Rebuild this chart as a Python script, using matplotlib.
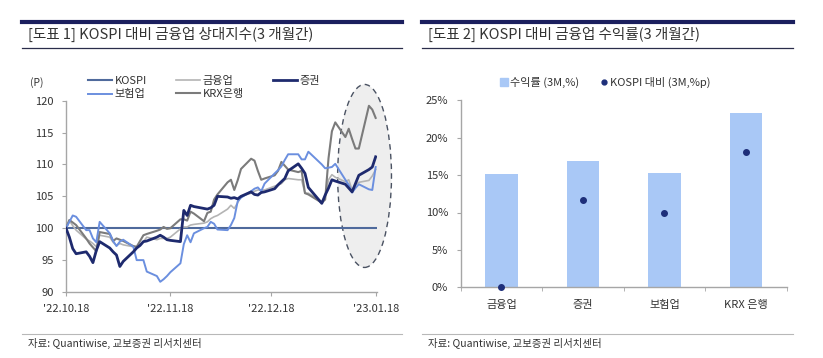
import matplotlib
matplotlib.use("Agg")
import matplotlib.pyplot as plt
import matplotlib.dates as mdates
from matplotlib.patches import Ellipse
from matplotlib.lines import Line2D
import numpy as np
import pandas as pd

plt.rcParams['font.family'] = ['Noto Sans CJK KR', 'DejaVu Sans']

# ---------------- data: chart 1 ----------------
dates = [
    "2022-10-18", "2022-10-19", "2022-10-20", "2022-10-21", "2022-10-24", "2022-10-25", "2022-10-26",
    "2022-10-27", "2022-10-28", "2022-10-31", "2022-11-01", "2022-11-02", "2022-11-03", "2022-11-04",
    "2022-11-07", "2022-11-08", "2022-11-09", "2022-11-10", "2022-11-11", "2022-11-14", "2022-11-15",
    "2022-11-16", "2022-11-17", "2022-11-18", "2022-11-21", "2022-11-22", "2022-11-23", "2022-11-24",
    "2022-11-25", "2022-11-28", "2022-11-29", "2022-11-30", "2022-12-01", "2022-12-02", "2022-12-05",
    "2022-12-06", "2022-12-07", "2022-12-08", "2022-12-09", "2022-12-12", "2022-12-13", "2022-12-14",
    "2022-12-15", "2022-12-16", "2022-12-19", "2022-12-20", "2022-12-21", "2022-12-22", "2022-12-23",
    "2022-12-26", "2022-12-27", "2022-12-28", "2022-12-29", "2023-01-02", "2023-01-03", "2023-01-04",
    "2023-01-05", "2023-01-06", "2023-01-09", "2023-01-10", "2023-01-11", "2023-01-12", "2023-01-13",
    "2023-01-16", "2023-01-17", "2023-01-18",
]
kospi = [100.0] * len(dates)
securities = [  # 증권
    100.0, 98.6, 96.8, 96.0, 96.3, 95.6, 94.6, 96.5, 97.9, 96.9, 96.3, 95.8, 94.0, 94.8,
    96.3, 96.9, 97.3, 97.9, 98.0, 98.6, 98.9, 98.6, 98.2, 98.1, 97.9, 102.8, 102.0, 103.6,
    103.4, 103.1, 103.0, 103.2, 103.6, 105.0, 104.9, 104.7, 104.8, 104.6, 105.0, 105.7, 105.3,
    105.2, 105.6, 105.7, 106.2, 106.8, 107.3, 107.8, 109.0, 110.1, 109.4, 108.6, 106.4, 103.9,
    105.2, 106.3, 107.6, 107.4, 106.9, 106.3, 105.7, 107.0, 108.3, 109.2, 109.6, 111.2,
]
insurance = [  # 보험업
    100.0, 101.0, 102.0, 101.8, 99.7, 99.7, 98.4, 97.8, 101.0, 99.2, 98.0, 97.2, 97.9, 98.2,
    97.1, 95.0, 95.0, 95.0, 93.2, 92.5, 91.6, 92.0, 92.5, 93.1, 94.5, 97.5, 98.9, 97.8,
    99.2, 100.0, 100.2, 101.0, 100.7, 99.8, 99.7, 100.5, 101.6, 104.2, 104.8, 105.8, 106.2,
    106.4, 105.8, 107.0, 108.6, 109.1, 109.7, 110.7, 111.6, 111.6, 110.8, 110.8, 112.0, 110.0,
    109.4, 109.5, 109.6, 110.1, 107.6, 106.8, 105.6, 106.3, 106.9, 106.1, 106.0, 109.6,
]
krx_bank = [  # KRX은행
    100.0, 101.3, 100.9, 100.5, 98.4, 97.6, 97.0, 96.4, 99.4, 99.1, 98.0, 98.4, 98.2, 98.0,
    97.2, 97.1, 98.0, 98.9, 99.1, 99.6, 99.8, 100.2, 99.9, 100.0, 101.4, 101.4, 101.2, 102.6,
    102.3, 101.1, 102.4, 102.6, 104.5, 105.3, 107.2, 107.6, 106.0, 107.5, 109.3, 110.9, 110.6,
    109.0, 107.6, 107.8, 108.3, 109.0, 110.4, 109.8, 109.2, 108.8, 109.0, 105.5, 105.3, 104.0,
    104.5, 111.0, 115.2, 116.6, 114.3, 115.6, 114.0, 112.5, 112.5, 119.2, 118.6, 117.3,
]
finance = [  # 금융업
    100.0, 101.2, 100.4, 99.7, 98.3, 98.0, 97.6, 97.1, 98.9, 98.6, 97.8, 97.3, 97.6, 97.4,
    97.1, 97.1, 97.5, 97.9, 98.6, 98.2, 98.4, 98.4, 98.4, 98.6, 99.9, 100.2, 100.2, 100.5,
    100.6, 100.8, 101.0, 101.5, 101.8, 102.0, 103.0, 103.6, 103.1, 104.0, 105.0, 105.5, 105.8,
    106.0, 106.0, 106.0, 106.6, 106.8, 107.0, 107.6, 107.8, 107.6, 107.6, 105.5, 105.5, 104.2,
    105.0, 107.6, 108.4, 108.0, 107.3, 107.6, 106.0, 106.8, 107.2, 107.5, 108.2, 109.2,
]
x_tick_dates = ["2022-10-18", "2022-11-18", "2022-12-18", "2023-01-18"]
x_tick_labels = ["'22.10.18", "'22.11.18", "'22.12.18", "'23.01.18"]
y_ticks_1 = [90, 95, 100, 105, 110, 115, 120]

# ---------------- data: chart 2 ----------------
categories = ["금융업", "증권", "보험업", "KRX 은행"]
returns_3m = [15.2, 16.9, 15.3, 23.3]
vs_kospi = [0.0, 11.7, 10.0, 18.1]
y_ticks_2 = [0, 5, 10, 15, 20, 25]

# ---------------- figure ----------------
W, H = 823, 358
fig = plt.figure(figsize=(W / 100, H / 100), dpi=100)
TXT = '#333333'


def fx(px):
    return px / W


def fy(py):
    return 1 - py / H


def hline(x0, x1, y, color, lw):
    fig.add_artist(Line2D([fx(x0), fx(x1)], [fy(y), fy(y)], color=color, lw=lw,
                          transform=fig.transFigure))


# headers / footers
for x0, x1, title in [(22, 402, "[도표 1] KOSPI 대비 금융업 상대지수(3 개월간)"),
                      (422, 793, "[도표 2] KOSPI 대비 금융업 수익률(3 개월간)")]:
    hline(x0, x1, 21.5, '#1b1f5e', 3.0)
    hline(x0, x1, 47.5, '#2a2d4a', 0.9)
    fig.text(fx(x0 + 6), fy(34), title, fontsize=10.5, color=TXT, va='center', ha='left')
    hline(x0, x1, 334, '#b8b8b8', 0.8)
    fig.text(fx(x0 + 6), fy(343), "자료: Quantiwise, 교보증권 리서치센터", fontsize=7.5,
             color=TXT, va='center', ha='left')

# ---------------- chart 1 ----------------
ax1 = fig.add_axes([fx(66), fy(292), fx(377) - fx(66), fy(100.7) - fy(292)])
xd = pd.to_datetime(dates)
x0 = mdates.date2num(pd.Timestamp("2022-10-18"))

ell = Ellipse((x0 + 88.7, 108.2), 16.0, 28.7, facecolor='#eeeeee', edgecolor='#4a5262',
              lw=1.0, linestyle=(0, (4, 3)), clip_on=False, zorder=1)
ax1.add_patch(ell)

l_kospi, = ax1.plot(xd, kospi, color='#4f6a9c', lw=1.5, zorder=3)
l_fin, = ax1.plot(xd, finance, color='#b4b4b4', lw=1.2, zorder=3)
l_krx, = ax1.plot(xd, krx_bank, color='#7b7b7b', lw=1.5, zorder=4)
l_ins, = ax1.plot(xd, insurance, color='#6b8fdf', lw=1.4, zorder=5)
l_sec, = ax1.plot(xd, securities, color='#1e2a6e', lw=2.0, zorder=6)

ax1.set_xlim(x0, x0 + 92.4)
ax1.set_ylim(90, 120)
ax1.set_yticks(y_ticks_1)
ax1.set_xticks(mdates.date2num(pd.to_datetime(x_tick_dates)))
ax1.set_xticklabels(x_tick_labels)
for s in ['top', 'right']:
    ax1.spines[s].set_visible(False)
for s in ['left', 'bottom']:
    ax1.spines[s].set_color('#a6a6a6')
    ax1.spines[s].set_linewidth(1.0)
ax1.tick_params(axis='both', direction='out', length=3, color='#a6a6a6', labelsize=8,
                labelcolor=TXT)
ax1.tick_params(axis='x', pad=6)
ax1.tick_params(axis='y', pad=6)
fig.text(fx(30), fy(83), "(P)", fontsize=7.5, color=TXT, va='center', ha='left')

leg = ax1.legend([l_kospi, l_ins, l_fin, l_krx, l_sec], ["KOSPI", "보험업", "금융업", "KRX은행", "증권"],
                 ncol=3, loc='upper left', bbox_to_anchor=(fx(88), fy(76)),
                 bbox_transform=fig.transFigure, frameon=False, fontsize=8,
                 handlelength=2.2, handletextpad=0.2, columnspacing=2.6, labelspacing=0.3,
                 borderaxespad=0, borderpad=0)
for t in leg.get_texts():
    t.set_color(TXT)

# ---------------- chart 2 ----------------
ax2 = fig.add_axes([fx(460.7), fy(287.3), fx(786.7) - fx(460.7), fy(100.3) - fy(287.3)])
xc = np.arange(len(categories))
bars = ax2.bar(xc, returns_3m, width=0.40, color='#a9c8f6', zorder=2, label='수익률 (3M,%)')
dots = ax2.scatter(xc, vs_kospi, s=16, color='#1e2f7a', zorder=3, clip_on=False,
                   label='KOSPI 대비 (3M,%p)')
ax2.set_xlim(-0.5, 3.5)
ax2.set_ylim(0, 25)
ax2.set_yticks(y_ticks_2)
ax2.set_yticklabels([f"{v}%" for v in y_ticks_2])
ax2.set_xticks(xc)
ax2.set_xticklabels(categories)
ax2.set_xticks(np.arange(-0.5, 4.0, 1.0), minor=True)
for s in ['top', 'right']:
    ax2.spines[s].set_visible(False)
for s in ['left', 'bottom']:
    ax2.spines[s].set_color('#a6a6a6')
    ax2.spines[s].set_linewidth(1.0)
ax2.tick_params(axis='x', which='major', length=0, pad=9, labelsize=8, labelcolor=TXT)
ax2.tick_params(axis='x', which='minor', length=3, direction='out', color='#a6a6a6')
ax2.tick_params(axis='y', length=3, direction='out', color='#a6a6a6', labelsize=8,
                labelcolor=TXT, pad=6)

h_sq = Line2D([], [], marker='s', color='#a9c8f6', linestyle='none', markersize=6)
h_dot = Line2D([], [], marker='o', color='#1e2f7a', linestyle='none', markersize=3.5)
leg2 = ax2.legend([h_sq, h_dot], ['수익률 (3M,%)', 'KOSPI 대비 (3M,%p)'], ncol=2,
                  loc='center', bbox_to_anchor=(fx(605), fy(82)), bbox_transform=fig.transFigure,
                  frameon=False, fontsize=8, handlelength=0.8, handletextpad=0.2,
                  columnspacing=1.8, borderpad=0, borderaxespad=0)
for t in leg2.get_texts():
    t.set_color(TXT)

fig.savefig("out.png", dpi=100)
